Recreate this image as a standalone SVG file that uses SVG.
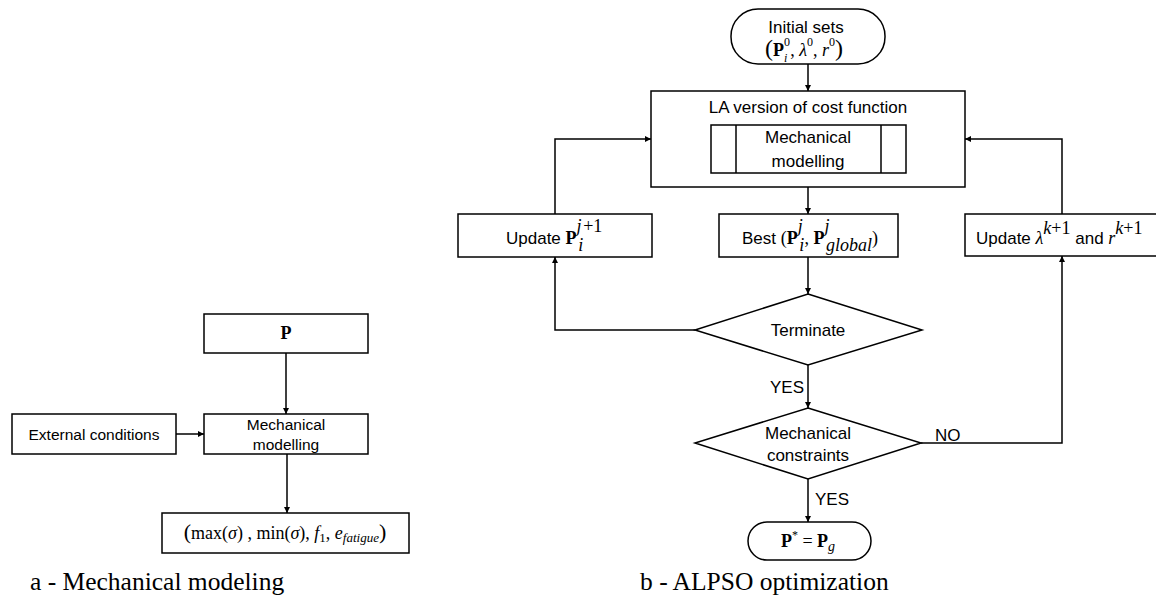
<svg xmlns="http://www.w3.org/2000/svg" width="1156" height="605" viewBox="0 0 1156 605">
<style>
.box{fill:#fff;stroke:#000;stroke-width:1.5}
.ln{fill:none;stroke:#000;stroke-width:1.5}
.s{font-family:"Liberation Sans",Arial,sans-serif;font-size:17px;fill:#000}
.sl{font-family:"Liberation Sans",Arial,sans-serif;font-size:15.5px;fill:#000}
.m{font-family:"Liberation Serif","Times New Roman",serif;font-size:18px;fill:#000}
.b{font-weight:bold}
.i{font-style:italic}
.cap{font-family:"Liberation Serif","Times New Roman",serif;font-size:25.5px;fill:#000}
</style>
<defs>
<marker id="ah" viewBox="0 0 10 10" refX="10" refY="5" markerWidth="9" markerHeight="6" orient="auto" markerUnits="userSpaceOnUse">
<path d="M0,0 L10,5 L0,10 z" fill="#000"/>
</marker>
</defs>

<!-- Left diagram -->
<g id="nodeP">
<rect class="box" x="204" y="314" width="164" height="39"/>
<text class="m b" x="286" y="339" text-anchor="middle">P</text>
</g>
<g id="nodeExt">
<rect class="box" x="12" y="414" width="164" height="40"/>
<text class="sl" x="94" y="440" text-anchor="middle">External conditions</text>
</g>
<g id="nodeMechA">
<rect class="box" x="204" y="414" width="164" height="40"/>
<text class="sl" x="286" y="430" text-anchor="middle">Mechanical</text>
<text class="sl" x="286" y="450" text-anchor="middle">modelling</text>
</g>
<g id="nodeOut">
<rect class="box" x="162" y="513" width="247" height="40"/>
<text class="m" x="285" y="539" text-anchor="middle" font-size="19.5"><tspan font-size="22">(</tspan>max(<tspan class="i">σ</tspan>) , min(<tspan class="i">σ</tspan>), <tspan class="i">f</tspan><tspan font-size="13" dy="3">1</tspan><tspan dy="-3">, </tspan><tspan class="i">e</tspan><tspan class="i" font-size="13" dy="3">fatigue</tspan><tspan font-size="22" dy="-3">)</tspan></text>
</g>

<!-- Right diagram -->
<g id="nodeInit">
<rect class="box" x="731" y="9" width="154" height="55" rx="27" ry="27"/>
<text class="s" x="806" y="33" text-anchor="middle">Initial sets</text>
<text class="m" x="804" y="56" text-anchor="middle" font-size="19.5"><tspan font-size="24">(</tspan><tspan class="b">P</tspan><tspan font-size="12" dy="-10">0</tspan><tspan class="i" font-size="12" dx="-6" dy="16">i</tspan><tspan dy="-6" dx="3">, </tspan><tspan class="i">λ</tspan><tspan font-size="12" dy="-10">0</tspan><tspan dy="10">, </tspan><tspan class="i">r</tspan><tspan font-size="12" dy="-10">0</tspan><tspan font-size="24" dy="10">)</tspan></text>
</g>
<g id="nodeLA">
<rect class="box" x="651" y="91" width="314" height="96"/>
<text class="s" x="808" y="113" text-anchor="middle">LA version of cost function</text>
<rect class="box" x="711" y="125" width="195" height="48"/>
<line class="ln" x1="736" y1="125" x2="736" y2="173"/>
<line class="ln" x1="881" y1="125" x2="881" y2="173"/>
<text class="s" x="808" y="143" text-anchor="middle">Mechanical</text>
<text class="s" x="808" y="167" text-anchor="middle">modelling</text>
</g>
<g id="nodeUpdP">
<rect class="box" x="458" y="214" width="194" height="43"/>
<text class="s" x="506" y="244">Update <tspan class="m b" font-size="19">P</tspan><tspan class="m i" font-size="12" dy="-12">j</tspan><tspan class="m i" font-size="12" dx="-3.4" dy="19">i</tspan><tspan class="m" font-size="12" dy="-19">+1</tspan></text>
</g>
<g id="nodeBest">
<rect class="box" x="719" y="214" width="179" height="43"/>
<text class="s" x="742" y="244">Best <tspan class="m" font-size="19">(</tspan><tspan class="m b" font-size="19">P</tspan><tspan class="m i" font-size="12" dy="-12">j</tspan><tspan class="m i" font-size="12" dx="-3.4" dy="19">i</tspan><tspan class="m" font-size="19" dy="-7">, </tspan><tspan class="m b" font-size="19">P</tspan><tspan class="m i" font-size="12" dy="-12">j</tspan><tspan class="m i" font-size="12" dx="-3.4" dy="19">global</tspan><tspan class="m" font-size="19" dy="-7">)</tspan></text>
</g>
<g id="nodeUpdL">
<rect class="box" x="965" y="214" width="196" height="42"/>
<text class="s" x="976" y="244">Update <tspan class="m i" font-size="19">λ</tspan><tspan class="m i" font-size="12.5" dy="-10">k</tspan><tspan class="m" font-size="12.5">+1</tspan><tspan dy="10"> and </tspan><tspan class="m i" font-size="19">r</tspan><tspan class="m i" font-size="12.5" dy="-10">k</tspan><tspan class="m" font-size="12.5">+1</tspan></text>
</g>
<g id="nodeTerm">
<polygon class="box" points="808,294 922,330 808,365 695,330"/>
<text class="s" x="808" y="336" text-anchor="middle">Terminate</text>
</g>
<g id="nodeMC">
<polygon class="box" points="808,408 921,443 808,479 695,443"/>
<text class="s" x="808" y="439" text-anchor="middle">Mechanical</text>
<text class="s" x="808" y="461" text-anchor="middle">constraints</text>
</g>
<g id="nodeEnd">
<rect class="box" x="748" y="522" width="123" height="38" rx="19" ry="19"/>
<text class="m" x="808" y="547" text-anchor="middle" font-size="19"><tspan class="b">P</tspan><tspan font-size="12" dy="-8">*</tspan><tspan dy="8"> = </tspan><tspan class="b">P</tspan><tspan class="i" font-size="14" dy="4">g</tspan></text>
</g>

<g id="connectors">
<path class="ln" d="M286,353 V414" marker-end="url(#ah)"/>
<path class="ln" d="M176,434 H204" marker-end="url(#ah)"/>
<path class="ln" d="M287,454 V513" marker-end="url(#ah)"/>
<path class="ln" d="M808,64 V91" marker-end="url(#ah)"/>
<path class="ln" d="M808,187 V214" marker-end="url(#ah)"/>
<path class="ln" d="M808,257 V294" marker-end="url(#ah)"/>
<path class="ln" d="M695,330 H555 V257" marker-end="url(#ah)"/>
<path class="ln" d="M555,214 V139 H651" marker-end="url(#ah)"/>
<path class="ln" d="M1062,214 V139 H965" marker-end="url(#ah)"/>
<path class="ln" d="M808,365 V408" marker-end="url(#ah)"/>
<path class="ln" d="M921,443 H1062 V256" marker-end="url(#ah)"/>
<path class="ln" d="M808,479 V522" marker-end="url(#ah)"/>
<text class="s" x="770" y="393">YES</text>
<text class="s" x="935" y="441">NO</text>
<text class="s" x="815" y="505">YES</text>
</g>

<text class="cap" x="30" y="590">a - Mechanical modeling</text>
<text class="cap" x="640" y="590">b - ALPSO optimization</text>
</svg>
